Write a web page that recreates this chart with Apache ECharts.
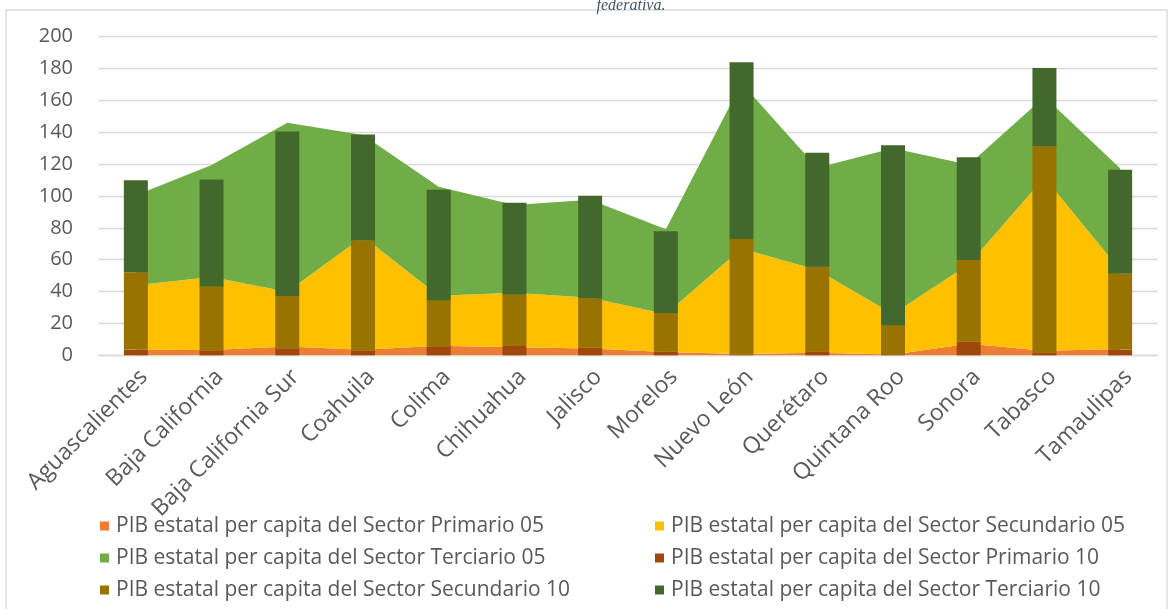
<!DOCTYPE html>
<html>
<head>
<meta charset="utf-8">
<script src="https://cdn.jsdelivr.net/npm/echarts@6/dist/echarts.min.js"></script>
<style>
	html, body { margin: 0; padding: 0; background: #fff; }
	#chart { width: 1170px; height: 609px; }
</style>
</head>
<body>
<div id="chart"></div>
<script>
var estados = ['Aguascalientes', 'Baja California', 'Baja California Sur', 'Coahuila', 'Colima', 'Chihuahua', 'Jalisco', 'Morelos', 'Nuevo León', 'Querétaro', 'Quintana Roo', 'Sonora', 'Tabasco', 'Tamaulipas'];

// 2005 (areas)
var primario05 = [3.5, 3.3, 5.5, 3.5, 6.0, 5.1, 4.2, 2.0, 0.8, 1.6, 0.5, 7.3, 2.8, 4.0];
var secundario05 = [40.4, 45.8, 34.4, 71.1, 31.4, 34.1, 32.0, 24.0, 66.3, 52.0, 25.4, 49.8, 108.8, 49.6];
var terciario05 = [56.6, 70.4, 106.1, 63.7, 68.4, 55.1, 61.4, 53.2, 103.7, 64.2, 104.1, 62.5, 50.7, 63.8];

// 2010 (barras)
var primario10 = [3.6, 3.0, 4.3, 3.0, 5.6, 5.9, 4.8, 2.3, 0.3, 2.5, 0.2, 8.5, 1.6, 3.6];
var secundario10 = [48.6, 40.0, 33.0, 69.1, 28.6, 32.1, 30.9, 24.3, 72.7, 53.1, 18.3, 51.3, 129.7, 47.6];
var terciario10 = [57.7, 67.3, 103.2, 66.5, 69.8, 57.8, 64.5, 51.2, 110.9, 71.5, 113.4, 64.5, 49.0, 65.2];

var nombres = [
	'PIB estatal per capita del Sector Primario 05',
	'PIB estatal per capita del Sector Secundario 05',
	'PIB estatal per capita del Sector Terciario 05',
	'PIB estatal per capita del Sector Primario 10',
	'PIB estatal per capita del Sector Secundario 10',
	'PIB estatal per capita del Sector Terciario 10'
];

var colores = ['#ED7D31', '#FFC000', '#70AD47', '#9E480E', '#997300', '#43682B'];
var fuente = 'Open Sans';

function area(i, data) {
	return {
		name: nombres[i],
		type: 'line',
		stack: 'a05',
		data: data,
		symbol: 'none',
		showSymbol: false,
		lineStyle: { width: 0 },
		areaStyle: { color: colores[i], opacity: 1 },
		itemStyle: { color: colores[i] },
		z: 1
	};
}

function barra(i, data) {
	return {
		name: nombres[i],
		type: 'bar',
		stack: 'b10',
		data: data,
		barWidth: 24,
		itemStyle: { color: colores[i] },
		z: 3
	};
}

var legendStyle = {
	orient: 'vertical',
	top: 510,
	icon: 'rect',
	itemWidth: 9,
	itemHeight: 9,
	itemGap: 10,
	textStyle: {
		fontFamily: fuente,
		fontSize: 21,
		lineHeight: 22,
		color: '#595959',
		padding: [0, 0, 0, 2]
	}
};

var option = {
	animation: false,
	textStyle: { fontFamily: fuente },
	grid: {
		left: 98,
		right: 12,
		top: 36.7,
		bottom: 253.7,
		containLabel: false
	},
	legend: [
		Object.assign({ left: 95, data: [nombres[0], nombres[2], nombres[4]] }, legendStyle),
		Object.assign({ left: 650, data: [nombres[1], nombres[3], nombres[5]] }, legendStyle)
	],
	xAxis: {
		type: 'category',
		data: estados,
		boundaryGap: true,
		axisLine: { show: true, lineStyle: { color: '#D9D9D9', width: 1.3 } },
		axisTick: { show: false },
		axisLabel: {
			interval: 0,
			rotate: 45,
			margin: 10,
			verticalAlign: 'top',
			fontFamily: fuente,
			fontSize: 23,
			color: '#595959'
		}
	},
	yAxis: {
		type: 'value',
		min: 0,
		max: 200,
		interval: 20,
		axisLine: { show: false },
		axisTick: { show: false },
		axisLabel: {
			margin: 25,
			fontFamily: fuente,
			fontSize: 20,
			color: '#595959'
		},
		splitLine: { lineStyle: { color: '#D9D9D9', width: 1.3 } }
	},
	graphic: [
		{
			type: 'rect',
			shape: { x: 6, y: 10, width: 1161, height: 620 },
			style: { fill: 'none', stroke: '#D9D9D9', lineWidth: 1.3 },
			silent: true
		},
		{
			type: 'text',
			x: 631,
			y: 14,
			style: {
				text: 'federativa.',
				fontFamily: 'Liberation Serif',
				fontStyle: 'italic',
				fontSize: 16,
				fill: '#44546A',
				align: 'center',
				verticalAlign: 'bottom'
			}
		}
	],
	series: [
		area(0, primario05),
		area(1, secundario05),
		area(2, terciario05),
		barra(3, primario10),
		barra(4, secundario10),
		barra(5, terciario10)
	]
};

var chart = echarts.init(document.getElementById('chart'));
chart.setOption(option);
</script>
</body>
</html>
